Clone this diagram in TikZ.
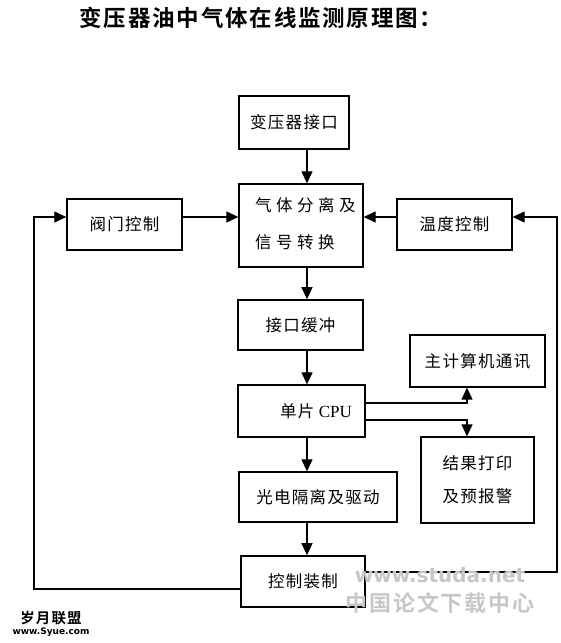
\documentclass[tikz,border=0pt]{standalone}
\usepackage{fontspec}
\setmainfont{Liberation Serif}
\newfontfamily\cjk[LetterSpace=8]{Noto Sans CJK SC}
\newfontfamily\cjkwide[LetterSpace=27]{Noto Sans CJK SC}
\newfontfamily\cjkbold[LetterSpace=8]{Noto Sans CJK SC Bold}
\newfontfamily\wmfont{DejaVu Sans}
\usetikzlibrary{arrows.meta}
\begin{document}
\begin{tikzpicture}[x=1pt,y=-1pt,
  box/.style={draw, line width=1.3pt, inner sep=0pt, font=\cjk\fontsize{16.5}{20}\selectfont},
  txt/.style={inner sep=0pt, font=\cjk\fontsize{16.5}{20}\selectfont},
  arr/.style={line width=1.2pt, -{Triangle[length=12pt,width=11pt]}},
  wm/.style={inner sep=0pt, text=black!22}]
\useasboundingbox (0,0) rectangle (560,643);
\node[inner sep=0pt, font=\cjkbold\fontsize{22.5}{26}\selectfont] (title) at (261,18) {变压器油中气体在线监测原理图：};

\node[box, line width=1.5pt, minimum width=110pt, minimum height=53pt] (iface) at (294,122.5) {变压器接口};
\node[box, minimum width=124pt, minimum height=83pt] (sep) at (301,225.5) {};
\node[txt, anchor=west, align=left, font=\cjkwide\fontsize{16.5}{37}\selectfont] (septxt) at (255,223.5) {气体分离及\\信号转换};
\node[box, minimum width=115pt, minimum height=51pt] (valve) at (124.5,224.5) {阀门控制};
\node[box, minimum width=115pt, minimum height=51pt] (temp) at (454.5,224.5) {温度控制};
\node[box, line width=1.6pt, minimum width=125pt, minimum height=50pt] (buf) at (300.5,325) {接口缓冲};
\node[box, minimum width=135pt, minimum height=52pt] (host) at (477.5,361) {主计算机通讯};
\node[box, minimum width=127pt, minimum height=52pt] (cpu) at (301.5,411) {};
\node[txt, font=\fontsize{17}{20}\selectfont] (cputxt) at (316,411) {{\cjk\fontsize{16.5}{20}\selectfont 单片} CPU};
\node[box, align=center, font=\cjk\fontsize{16.5}{33}\selectfont, minimum width=113pt, minimum height=86pt] (res) at (477.5,480) {结果打印\\及预报警};
\node[box, minimum width=158pt, minimum height=50pt] (opto) at (318,497) {光电隔离及驱动};
\node[box, line width=1.6pt, minimum width=124pt, minimum height=51pt] (ctrl) at (303,581.5) {控制装制};

\coordinate (cx) at (307,0);
\coordinate (cy) at (0,217);
\coordinate (bx) at (467,0);
\coordinate (c1) at (0,403);
\coordinate (c2) at (0,420);
\coordinate (lx) at (34,0);
\coordinate (rx) at (557,0);
\coordinate (ly) at (0,589);
\coordinate (ry) at (0,572);

\draw[arr] (iface.south -| cx) -- (sep.north -| cx);
\draw[arr] (sep.south -| cx) -- (buf.north -| cx);
\draw[arr] (buf.south -| cx) -- (cpu.north -| cx);
\draw[arr] (cpu.south -| cx) -- (opto.north -| cx);
\draw[arr] (opto.south -| cx) -- (ctrl.north -| cx);
\draw[arr] (valve.east |- cy) -- (sep.west |- cy);
\draw[arr] (temp.west |- cy) -- (sep.east |- cy);
\draw[arr] (cpu.east |- c1) -| (host.south -| bx);
\draw[arr] (cpu.east |- c2) -| (res.north -| bx);
\draw[arr] (ctrl.west |- ly) -| (lx |- cy) -- (valve.west |- cy);
\draw[arr] (ctrl.east |- ry) -| (rx |- cy) -- (temp.east |- cy);

\node[inner sep=0pt, font=\cjkbold\fontsize{14.5}{15}\selectfont] (wm1) at (51,618) {岁月联盟};
\node[inner sep=0pt, font=\wmfont\bfseries\fontsize{9}{10}\selectfont] (wm2) at (51,632) {www.Syue.com};
\node[wm, font=\wmfont\bfseries\fontsize{20}{22}\selectfont] (wm3) at (440,575) {www.studa.net};
\node[wm, font=\cjkbold\fontsize{22}{24}\selectfont] (wm4) at (440,603) {中国论文下载中心};
\end{tikzpicture}
\end{document}
